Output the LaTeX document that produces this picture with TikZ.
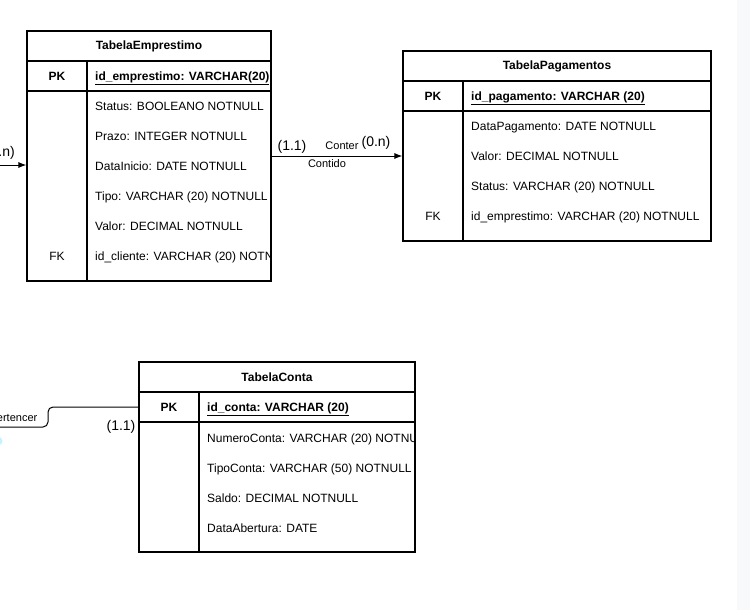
\documentclass[tikz,border=0pt]{standalone}
\usepackage{fontspec}
\setmainfont{Liberation Sans}
\usetikzlibrary{positioning, arrows.meta}
\definecolor{mPanel}{HTML}{F8F9FA}
\definecolor{mHandle}{HTML}{C9F0FF}

\begin{document}
\begin{tikzpicture}[
  x=1pt, y=-1pt,
  every node/.style={font=\fontsize{12}{14}\selectfont, inner sep=0pt},
  title/.style={
    draw,
    line width=1.1pt,
    minimum height=30pt,
    font=\fontsize{12}{14}\selectfont\bfseries
  },
  cell/.style={
    draw,
    line width=1.1pt
  },
  field/.style={
    anchor=west,
    text height=8.6pt,
    text depth=0pt
  },
  card/.style={font=\fontsize{14}{16}\selectfont},
  role/.style={font=\fontsize{11}{13}\selectfont},
  link/.style={draw, -{Latex[length=8pt, width=6pt]}, line width=1pt},
  rel/.style={draw, line width=1pt, rounded corners=5pt}
]
\useasboundingbox (0,0) rectangle (750,610);
\clip (0,0) rectangle (750,610);
\fill[mPanel] (737,0) rectangle (750,610);

% TabelaEmprestimo
\node[title, minimum width=244pt] (empTitle) at (149,46) {TabelaEmprestimo};
\node[cell, minimum width=60pt, minimum height=30pt, font=\fontsize{12}{14}\selectfont\bfseries] (empPKkey) at (57,76) {PK};
\node[cell, minimum width=184pt, minimum height=30pt] (empPKfield) at (179,76) {};
\node[cell, minimum width=60pt, minimum height=190pt] (empKeys) at (57,186) {};
\node[cell, minimum width=184pt, minimum height=190pt] (empFields) at (179,186) {};
\node[field, anchor=center] (empFK) at (57,256) {FK};
\begin{scope}
  \clip (empPKfield.north west) rectangle (empFields.south east);
  \node[field] (empId) at (95,76) {\underline{\textbf{id\_emprestimo: VARCHAR(20)}}};
  \node[field] (empStatus) at (95,106) {Status: BOOLEANO NOTNULL};
  \node[field] (empPrazo) at (95,136) {Prazo: INTEGER NOTNULL};
  \node[field] (empInicio) at (95,166) {DataInicio: DATE NOTNULL};
  \node[field] (empTipo) at (95,196) {Tipo: VARCHAR (20) NOTNULL};
  \node[field] (empValor) at (95,226) {Valor: DECIMAL NOTNULL};
  \node[field] (empCliente) at (95,256) {id\_cliente: VARCHAR (20) NOTNULL};
\end{scope}

% TabelaPagamentos
\node[title, minimum width=308pt] (pagTitle) at (557,66) {TabelaPagamentos};
\node[cell, minimum width=60pt, minimum height=30pt, font=\fontsize{12}{14}\selectfont\bfseries] (pagPKkey) at (433,96) {PK};
\node[cell, minimum width=248pt, minimum height=30pt] (pagPKfield) at (587,96) {};
\node[cell, minimum width=60pt, minimum height=130pt] (pagKeys) at (433,176) {};
\node[cell, minimum width=248pt, minimum height=130pt] (pagFields) at (587,176) {};
\node[field, anchor=center] (pagFK) at (433,216) {FK};
\node[field] (pagId) at (471,96) {\underline{\textbf{id\_pagamento: VARCHAR (20)}}};
\node[field] (pagData) at (471,126) {DataPagamento: DATE NOTNULL};
\node[field] (pagValor) at (471,156) {Valor: DECIMAL NOTNULL};
\node[field] (pagStatus) at (471,186) {Status: VARCHAR (20) NOTNULL};
\node[field] (pagEmp) at (471,216) {id\_emprestimo: VARCHAR (20) NOTNULL};

% TabelaConta
\node[title, minimum width=276pt] (contaTitle) at (277,377) {TabelaConta};
\node[cell, minimum width=60pt, minimum height=30pt, font=\fontsize{12}{14}\selectfont\bfseries] (contaPKkey) at (169,407) {PK};
\node[cell, minimum width=216pt, minimum height=30pt] (contaPKfield) at (307,407) {};
\node[cell, minimum width=60pt, minimum height=130pt] (contaKeys) at (169,487) {};
\node[cell, minimum width=216pt, minimum height=130pt] (contaFields) at (307,487) {};
\begin{scope}
  \clip (contaPKfield.north west) rectangle (contaFields.south east);
  \node[field] (contaId) at (207,407) {\underline{\textbf{id\_conta: VARCHAR (20)}}};
  \node[field] (contaNumero) at (207,438) {NumeroConta: VARCHAR (20) NOTNULL};
  \node[field] (contaTipo) at (207,468) {TipoConta: VARCHAR (50) NOTNULL};
  \node[field] (contaSaldo) at (207,498) {Saldo: DECIMAL NOTNULL};
  \node[field] (contaAbertura) at (207,528) {DataAbertura: DATE};
\end{scope}

% relations
\coordinate (inCliente) at (0,165);
\draw[link] (inCliente) -- (inCliente -| empKeys.west);
\node[card, anchor=east] (cardIn) at (15,153) {(0.n)};

\coordinate (relPag) at (0,156);
\draw[link] (relPag -| empFields.east) -- (relPag -| pagKeys.west);
\node[card] (card11) at (292,147) {(1.1)};
\node[card] (card0n) at (376,143) {(0.n)};
\node[role] (conter) at (342,146) {Conter};
\node[role] (contido) at (327,164) {Contido};

\coordinate (inConta) at (0,427);
\draw[rel] (inConta) -- (48,427) -- (48,407) -- (contaPKkey.west);
\node[role, anchor=east] (pertencer) at (37.5,418) {Pertencer};
\node[card] (card11b) at (121,427) {(1.1)};
\fill[mHandle] (-2,441) circle (4.5pt);

\end{tikzpicture}
\end{document}
